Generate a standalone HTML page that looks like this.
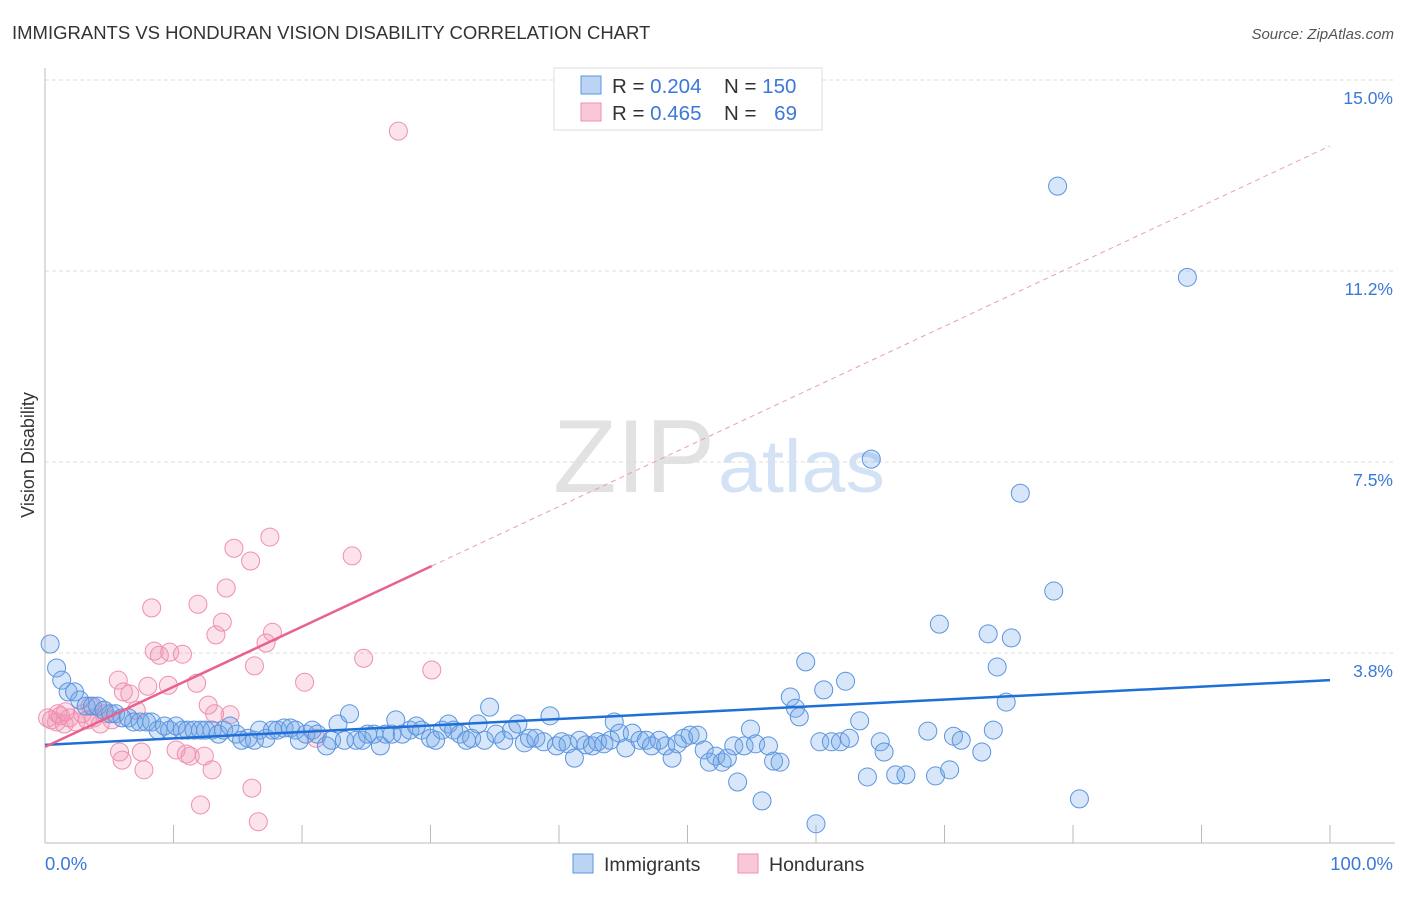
<!DOCTYPE html>
<html><head><meta charset="utf-8"><style>
body{margin:0;background:#fff;font-family:"Liberation Sans",sans-serif}
svg text{font-family:"Liberation Sans",sans-serif}
</style></head><body>
<svg id="chart" width="1406" height="892" viewBox="0 0 1406 892">
<text x="12" y="39" font-size="18.5" fill="#333">IMMIGRANTS VS HONDURAN VISION DISABILITY CORRELATION CHART</text>
<text x="1394" y="39" font-size="15" fill="#555" font-style="italic" text-anchor="end">Source: ZipAtlas.com</text>
<text transform="translate(34,455) rotate(-90)" font-size="18" fill="#333" text-anchor="middle">Vision Disability</text>
<g>
<text x="553" y="492" font-size="104" font-family="Liberation Serif" fill="#e2e2e2" textLength="162" lengthAdjust="spacingAndGlyphs">ZIP</text>
<text x="718" y="492" font-size="74" fill="#d3e2f5" textLength="167" lengthAdjust="spacingAndGlyphs">atlas</text>
</g>
<g id="grid"></g>
<line x1="45" y1="68" x2="45" y2="843" stroke="#bbb"/>
<line x1="45" y1="843" x2="1395" y2="843" stroke="#bbb"/>
<g id="xticks"></g>
<text x="45" y="870" font-size="18.5" fill="#3b78d8">0.0%</text>
<text x="1393" y="870" font-size="18.5" fill="#3b78d8" text-anchor="end">100.0%</text>
<g id="pts"></g>
<g id="trends"></g>
<g>
<rect x="554" y="68" width="268" height="62" fill="#fff" stroke="#ddd"/>
<rect x="581" y="76" width="20" height="18" fill="#bcd4f3" stroke="#5b94e0"/>
<rect x="581" y="103" width="20" height="18" fill="#f8c8d7" stroke="#ef8fb0"/>
<text x="612" y="93" font-size="20.5" fill="#333">R = <tspan fill="#3b78d8">0.204</tspan></text>
<text x="724" y="93" font-size="20.5" fill="#333">N = <tspan fill="#3b78d8">150</tspan></text>
<text x="612" y="120" font-size="20.5" fill="#333">R = <tspan fill="#3b78d8">0.465</tspan></text>
<text x="724" y="120" font-size="20.5" fill="#333">N = <tspan fill="#3b78d8" dx="12">69</tspan></text>
</g>
<g>
<rect x="573" y="854" width="20" height="19" fill="#bcd4f3" stroke="#5b94e0"/>
<text x="604" y="871" font-size="19.5" fill="#333">Immigrants</text>
<rect x="738" y="854" width="20" height="19" fill="#f8c8d7" stroke="#ef8fb0"/>
<text x="769" y="871" font-size="19.5" fill="#333">Hondurans</text>
</g>
</svg>
<script>
const yTicks=[15,11.25,7.5,3.75];
const yTickLabels=["15.0%","11.2%","7.5%","3.8%"];
const xTicks=[10,20,30,40,50,60,70,80,90,100];
const blueX=[0.4,0.9,1.3,1.8,2.3,2.7,3.2,3.7,4.1,4.6,5.1,5.5,6.0,6.5,6.9,7.4,7.9,8.3,8.8,9.3,9.7,10.2,10.7,11.1,11.6,12.1,12.5,13.0,13.5,13.9,14.4,14.9,15.3,15.8,16.3,16.7,17.2,17.7,18.1,18.6,19.1,19.5,19.8,20.3,20.8,21.2,21.9,22.3,22.8,23.3,23.7,24.2,24.7,25.1,25.6,26.1,26.5,27.0,27.3,27.8,28.4,28.9,29.3,30.0,30.4,30.9,31.4,31.8,32.3,32.8,33.2,33.7,34.2,34.6,35.1,35.7,36.3,36.8,37.3,37.7,38.2,38.8,39.3,39.8,40.2,40.7,41.2,41.6,42.1,42.6,43.0,43.5,44.0,44.3,44.7,45.2,45.7,46.3,46.8,47.2,47.8,48.3,48.8,49.2,49.7,50.2,50.8,51.3,51.7,52.2,52.7,53.1,53.6,53.9,54.4,54.9,55.3,55.8,56.3,56.7,57.2,58.0,58.4,58.7,59.2,60.0,60.3,60.6,61.2,61.9,62.3,62.6,63.4,64.0,64.3,65.0,65.3,66.2,67.0,68.7,69.3,69.6,70.4,70.7,71.3,72.9,73.4,73.8,74.1,74.8,75.2,75.9,78.5,78.8,80.5,88.9];
const blueY=[4.28,3.81,3.57,3.34,3.34,3.18,3.06,3.06,3.06,2.98,2.91,2.91,2.83,2.83,2.75,2.75,2.75,2.75,2.59,2.67,2.59,2.67,2.59,2.59,2.59,2.59,2.59,2.59,2.51,2.59,2.67,2.51,2.39,2.43,2.39,2.59,2.43,2.59,2.59,2.63,2.63,2.59,2.39,2.51,2.59,2.51,2.28,2.39,2.71,2.39,2.91,2.39,2.39,2.51,2.51,2.28,2.51,2.51,2.79,2.51,2.59,2.67,2.59,2.43,2.39,2.59,2.71,2.59,2.51,2.39,2.43,2.71,2.39,3.04,2.51,2.39,2.59,2.71,2.34,2.43,2.43,2.36,2.87,2.28,2.36,2.32,2.04,2.39,2.30,2.28,2.36,2.32,2.39,2.75,2.53,2.24,2.53,2.39,2.39,2.28,2.39,2.28,2.04,2.32,2.43,2.49,2.49,2.20,1.96,2.08,1.96,2.04,2.28,1.57,2.28,2.61,2.32,1.20,2.28,1.98,1.96,3.24,3.02,2.85,3.93,0.75,2.36,3.38,2.36,2.36,3.55,2.43,2.77,1.67,7.91,2.36,2.16,1.71,1.71,2.57,1.69,4.67,1.81,2.47,2.39,2.16,4.48,2.59,3.83,3.14,4.40,7.24,5.32,13.27,1.24,11.48];
const pinkX=[0.2,0.5,0.9,1.2,1.5,1.9,2.4,2.9,3.3,3.8,4.3,4.7,5.2,5.7,6.1,5.8,6.0,6.6,7.1,7.5,7.7,8.0,8.3,8.5,8.9,9.6,9.7,10.2,10.7,11.0,11.3,11.8,11.9,12.1,12.4,12.7,13.0,13.3,13.8,14.1,14.4,14.7,16.0,16.1,16.3,16.6,17.2,17.5,17.7,20.2,21.1,23.9,24.8,27.5,30.1,13.2,4.6,3.5,1.0,1.6];
const pinkY=[2.83,2.79,2.75,2.87,2.71,2.83,2.75,2.91,2.79,2.83,2.71,2.91,2.79,3.57,3.34,2.16,2.00,3.30,2.98,2.16,1.81,3.45,4.99,4.14,4.06,3.47,4.12,2.20,4.08,2.12,2.08,3.51,5.06,1.12,2.08,3.08,1.81,4.46,4.71,5.38,2.89,6.16,5.91,1.45,3.85,0.79,4.30,6.38,4.51,3.53,2.43,6.01,4.00,14.35,3.77,2.91,2.98,3.06,2.91,2.95];
const blueTrend=[2.30,0.0127];
const pinkTrend=[2.26,0.118];
const NS="http://www.w3.org/2000/svg";
function xs(v){return 45+v*12.85;}
function ys(v){return 862-v*50.93;}
function mk(t,a,p){const e=document.createElementNS(NS,t);for(const k in a)e.setAttribute(k,a[k]);p.appendChild(e);return e;}
const grid=document.getElementById('grid');
yTicks.forEach((t,i)=>{
 const l=mk('line',{x1:45,x2:1395,y1:ys(t)-18,y2:ys(t)-18,stroke:'#ddd','stroke-dasharray':'4,3'},grid);
 
 
 const tx=mk('text',{x:1393,y:ys(t)+6,'font-size':17.5,fill:'#3b78d8','text-anchor':'end'},grid);
 tx.textContent=yTickLabels[i];
 
 
});
const xt=document.getElementById('xticks');
xTicks.forEach(t=>{
 const l=mk('line',{x1:xs(t),x2:xs(t),y1:825,y2:843,stroke:'#bbb'},xt);
 
 
});
const pts=document.getElementById('pts');
pinkX.forEach((x,i)=>{
 const c=mk('circle',{cx:xs(x),cy:ys(pinkY[i]),r:9,fill:'rgba(242,150,182,0.28)',stroke:'#ef8fb0','stroke-width':1},pts);
 
 
});
blueX.forEach((x,i)=>{
 const c=mk('circle',{cx:xs(x),cy:ys(blueY[i]),r:9,fill:'rgba(110,165,230,0.28)',stroke:'#5b94e0','stroke-width':1},pts);
 
 
});
const tr=document.getElementById('trends');
const bt=mk('line',{x1:xs(0),y1:ys(blueTrend[0]),x2:xs(100),y2:ys(blueTrend[0]+100*blueTrend[1]),stroke:'#1f6fd6','stroke-width':2.5},tr);


const pt=mk('line',{x1:xs(0),y1:ys(pinkTrend[0]),x2:xs(30.1),y2:ys(pinkTrend[0]+30.1*pinkTrend[1]),stroke:'#e8628f','stroke-width':2.5},tr);


const pd=mk('line',{x1:xs(30.1),y1:ys(pinkTrend[0]+30.1*pinkTrend[1]),x2:xs(100),y2:ys(pinkTrend[0]+100*pinkTrend[1]),stroke:'#e8a0b8','stroke-width':1,'stroke-dasharray':'5,4'},tr);


</script>
</body></html>
